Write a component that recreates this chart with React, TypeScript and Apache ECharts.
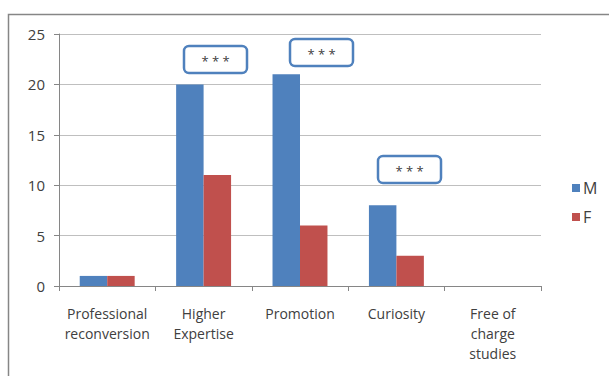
import React, { useEffect, useRef } from "react";
import * as echarts from "echarts";

const categories = [
  "Professional\nreconversion",
  "Higher\nExpertise",
  "Promotion",
  "Curiosity",
  "Free of\ncharge\nstudies",
];
const maleValues = [1, 20, 21, 8, 0];
const femaleValues = [1, 11, 6, 3, 0];
const yTicks = [0, 5, 10, 15, 20, 25];
const significanceLabel = "* * *";

const FONT = "'Open Sans', 'Noto Sans', sans-serif";
const BLUE = "#4F81BD";
const RED = "#C0504D";

// significance callouts drawn above bars
function callout(x: number, y: number) {
  return {
    type: "group",
    x,
    y,
    children: [
      {
        type: "rect",
        shape: { x: 0, y: 0, width: 63, height: 27, r: 5 },
        style: { fill: "#fff", stroke: BLUE, lineWidth: 2.5 },
      },
      {
        type: "text",
        x: 31.5,
        y: 15,
        style: {
          text: significanceLabel,
          fill: "#404040",
          font: `13px ${FONT}`,
          align: "center",
          verticalAlign: "middle",
        },
      },
    ],
  };
}

export default function App() {
  const ref = useRef<HTMLDivElement>(null);
  useEffect(() => {
    if (!ref.current) return;
    const chart = echarts.init(ref.current, null, { renderer: "svg" });
    chart.setOption({
      animation: false,
      backgroundColor: "#fff",
      grid: { left: 59, right: 68, top: 34, bottom: 90, containLabel: false },
      legend: {
        orient: "vertical",
        left: 567,
        top: 175,
        icon: "rect",
        itemWidth: 8,
        itemHeight: 8,
        itemGap: 13,
        textStyle: { fontFamily: FONT, fontSize: 16, color: "#404040", padding: [0, 0, 0, -2] },
        data: ["M", "F"],
      },
      xAxis: {
        type: "category",
        data: categories,
        axisLine: { lineStyle: { color: "#868686", width: 1 } },
        axisTick: { show: true, length: 5, lineStyle: { color: "#868686" } },
        axisLabel: {
          fontFamily: FONT,
          fontSize: 14,
          color: "#404040",
          lineHeight: 20,
          margin: 17,
          interval: 0,
        },
      },
      yAxis: {
        type: "value",
        min: 0,
        max: 25,
        interval: 5,
        axisLine: { show: true, lineStyle: { color: "#868686", width: 1 } },
        axisTick: { show: true, length: 5, lineStyle: { color: "#868686" } },
        splitLine: { lineStyle: { color: "#BFBFBF", width: 1 } },
        axisLabel: {
          fontFamily: FONT,
          fontSize: 15,
          color: "#404040",
          margin: 14,
          customValues: yTicks,
        },
      },
      series: [
        {
          name: "M",
          type: "bar",
          data: maleValues,
          itemStyle: { color: BLUE },
          barGap: "0%",
          barCategoryGap: "43%",
        },
        {
          name: "F",
          type: "bar",
          data: femaleValues,
          itemStyle: { color: RED },
          barGap: "0%",
          barCategoryGap: "43%",
        },
      ],
      graphic: [
        {
          type: "rect",
          shape: { x: 8.5, y: 14.5, width: 700, height: 500 },
          style: { fill: "none", stroke: "#868686", lineWidth: 1.5 },
          silent: true,
        },
        callout(184, 46),
        callout(290, 39),
        callout(378, 156),
      ],
    });
    return () => chart.dispose();
  }, []);
  return (
    <div
      ref={ref}
      style={{ position: "fixed", left: 0, top: 0, width: 609, height: 376 }}
    />
  );
}
